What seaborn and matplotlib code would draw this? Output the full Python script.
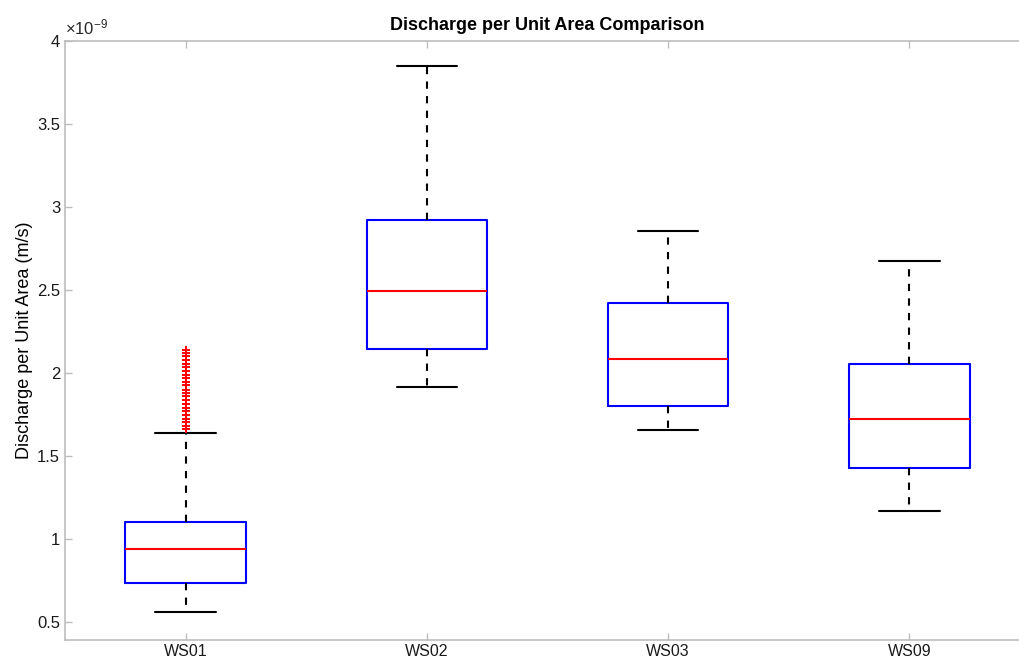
import numpy as np
import pandas as pd
import matplotlib
matplotlib.use("Agg")
import matplotlib.pyplot as plt
import matplotlib.ticker as mticker
import seaborn as sns

sites = ["WS01", "WS02", "WS03", "WS09"]
# five-number summaries (units of 1e-9 m/s): whisker low, Q1, median, Q3, whisker high
ws01 = [0.56, 0.735, 0.94, 1.102, 1.64]
ws02 = [1.916, 2.145, 2.494, 2.922, 3.849]
ws03 = [1.657, 1.803, 2.086, 2.422, 2.857]
ws09 = [1.169, 1.430, 1.723, 2.052, 2.677]
ws01_outliers = [2.14, 2.12, 2.10, 2.08, 2.055, 2.035, 2.01, 1.99, 1.97, 1.945,
                 1.925, 1.90, 1.88, 1.86, 1.835, 1.815, 1.79, 1.77, 1.75, 1.725,
                 1.705, 1.68, 1.66]
yticks = [0.5, 1, 1.5, 2, 2.5, 3, 3.5, 4]
scale = 1e-9

sns.set_theme(style="white")
plt.rcParams['font.family'] = ['Liberation Sans', 'DejaVu Sans']
plt.rcParams['mathtext.fontset'] = 'custom'
plt.rcParams['mathtext.rm'] = 'Liberation Sans'
plt.rcParams['mathtext.it'] = 'Liberation Sans'

rows = []
for s, vals in zip(sites, [ws01, ws02, ws03, ws09]):
    for v in vals:
        rows.append({"site": s, "value": v * scale})
df = pd.DataFrame(rows)
out_df = pd.DataFrame({"site": ["WS01"] * len(ws01_outliers),
                       "value": [v * scale for v in ws01_outliers]})

fig = plt.figure(figsize=(10.19, 6.64), dpi=100)
ax = fig.add_axes([65 / 1019, 24 / 664, 965 / 1019, 599 / 664])

lw = 1.5
sns.boxplot(data=df, x="site", y="value", order=sites, whis=(0, 100), width=0.5,
            fill=False, linewidth=lw, ax=ax,
            boxprops=dict(color="#0000ff", linewidth=lw),
            medianprops=dict(color="#ff0000", linewidth=lw),
            whiskerprops=dict(color="black", linestyle=(0, (3.5, 3.5)), linewidth=lw),
            capprops=dict(color="black", linewidth=lw),
            showfliers=False)
sns.stripplot(data=out_df, x="site", y="value", order=sites, jitter=False,
              marker="+", color="#ff0000", size=6, linewidth=1.4, ax=ax)

ax.set_xlim(-0.5, 3.5)
ax.set_ylim(0.392e-9, 4.0e-9)
ax.set_yticks([t * scale for t in yticks])
ax.yaxis.set_major_formatter(mticker.FuncFormatter(lambda v, p: f"{v / scale:g}"))
ax.text(0.0, 1.006, r"$\times10^{-9}$", transform=ax.transAxes, fontsize=12,
        color="#262626", ha="left", va="bottom")

ax.set_xlabel("")
ax.set_ylabel("Discharge per Unit Area (m/s)", fontsize=13, color="black", labelpad=3)
ax.set_title("Discharge per Unit Area Comparison", fontsize=13, fontweight="bold",
             color="black", pad=8)

for sp in ax.spines.values():
    sp.set_color("#bdbdbd")
    sp.set_linewidth(1.2)
ax.tick_params(axis="both", direction="in", length=5, width=1, color="#bdbdbd",
               labelsize=12, labelcolor="#1a1a1a", top=True, left=True, bottom=True)
ax.tick_params(axis="x", pad=3, labelsize=11.5)

fig.savefig("out.png", dpi=100)
